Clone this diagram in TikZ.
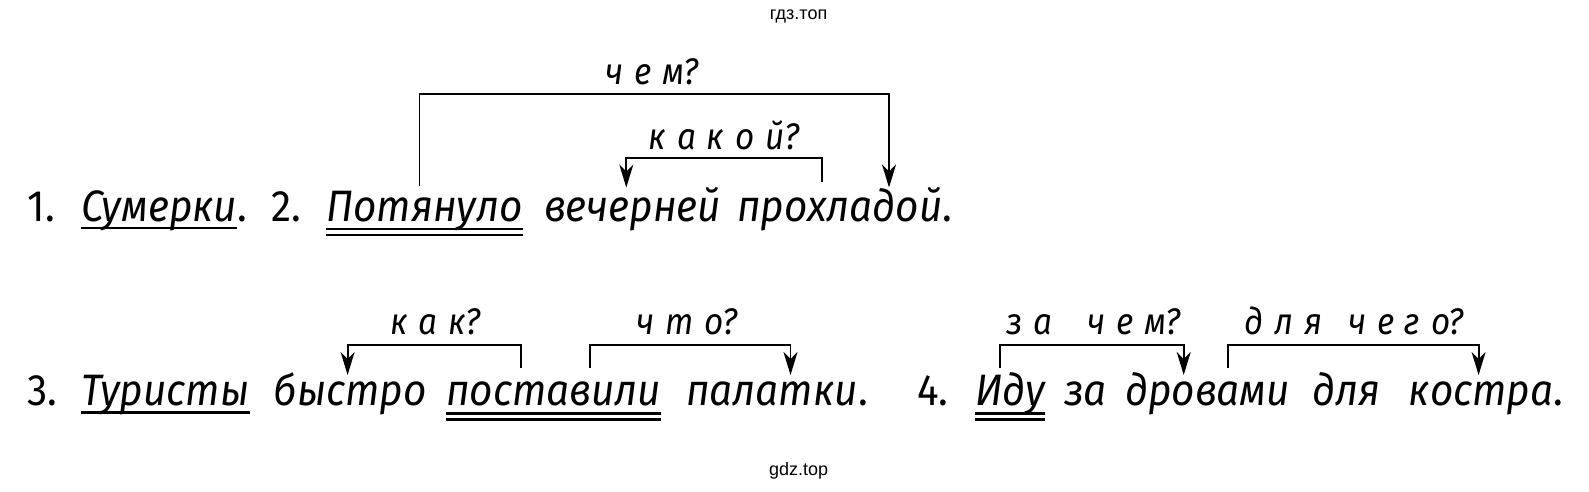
\documentclass[tikz,border=0pt]{standalone}
\usepackage{fontspec}
\usetikzlibrary{arrows.meta,calc}
\newfontfamily\wordfont{Fira Sans}[FakeStretch=0.92]
\newfontfamily\lblfont{Fira Sans}[FakeStretch=0.9]
\newfontfamily\wmfont{Liberation Sans}
\newcommand\lsp{\hspace{0.29em}}
\newcommand\wsp{\hspace{0.95em}}
\tikzset{
  word/.style={anchor=base west, inner sep=0pt, font=\wordfont\itshape\fontsize{44}{50}\selectfont},
  num/.style={word, font=\wordfont\upshape\fontsize{44}{50}\selectfont},
  lbl/.style={anchor=base west, inner sep=0pt, font=\lblfont\itshape\fontsize{37}{42}\selectfont},
  wm/.style={anchor=base, inner sep=0pt, font=\wmfont\fontsize{18}{21}\selectfont},
  conn/.style={line width=1.8pt},
  arr/.style={conn, -{Stealth[length=23pt,width=14pt,inset=7pt]}},
  ul/.style={line width=2.6pt}
}
\begin{document}
\begin{tikzpicture}[x=1pt,y=-1pt]
\useasboundingbox[fill=white] (0,0) rectangle (1589,491);
% watermarks
\node[wm] (wm1) at (798.6,19) {гдз.топ};
\node[wm] (wm2) at (798.6,475) {gdz.top};
% line 1
\node[num] (n1) at (27.4,221) {1.};
\node[word] (sum) at (81,221) {Сумерки};
\node[num] (dot1) at (sum.base east) {.};
\node[num] (n2) at (271.6,221) {2.};
\node[word] (pot) at (326,221) {Потянуло};
\node[word] (vech) at (544,221) {вечерней};
\node[word] (proh) at (737,221) {прохладой};
\node[num] (dot2) at (proh.base east) {.};
% line 2
\node[num] (n3) at (27.4,405.4) {3.};
\node[word] (tur) at (81,405.4) {Туристы};
\node[word] (bys) at (273.6,405.4) {быстро};
\node[word] (post) at (446,405.4) {поставили};
\node[word] (pal) at (686,405.4) {палатки};
\node[num] (dot3) at (pal.base east) {.};
\node[num] (n4) at (917,405.4) {4.};
\node[word] (idu) at (975,405.4) {Иду};
\node[word] (za) at (1064,405.4) {за};
\node[word] (drov) at (1125,405.4) {дровами};
\node[word] (dlya) at (1312,405.4) {для};
\node[word] (kost) at (1408.6,405.4) {костра};
\node[num] (dot4) at (kost.base east) {.};
% underlines
\draw[ul] ([yshift=-7pt]sum.base west) -- ([yshift=-7pt]sum.base east);
\draw[ul] ([yshift=-8pt]pot.base west) -- ([yshift=-8pt]pot.base east);
\draw[ul] ([yshift=-14pt]pot.base west) -- ([yshift=-14pt]pot.base east);
\draw[ul] ([yshift=-7pt]tur.base west) -- ([yshift=-7pt]tur.base east);
\draw[ul] ([yshift=-8pt]post.base west) -- ([yshift=-8pt]post.base east);
\draw[ul] ([yshift=-14pt]post.base west) -- ([yshift=-14pt]post.base east);
\draw[ul] ([yshift=-8pt]idu.base west) -- ([yshift=-8pt]idu.base east);
\draw[ul] ([yshift=-14pt]idu.base west) -- ([yshift=-14pt]idu.base east);
% connector end points
\coordinate (s1) at (419.5,185.5); \coordinate (t1) at (889,187.5);
\coordinate (s2) at (821.9,182.4); \coordinate (t2) at (626.3,187.5);
\coordinate (s3) at (520.9,368); \coordinate (t3) at (347.6,375);
\coordinate (s4) at (589.8,368); \coordinate (t4) at (790.5,375);
\coordinate (s5) at (1000.2,368); \coordinate (t5) at (1183.7,375);
\coordinate (s6) at (1228.2,368); \coordinate (t6) at (1478.6,375);
\draw[arr] (s1) -- ++(0,-91.3) -| (t1);
\draw[arr] (s2) -- ++(0,-24.4) -| (t2);
\draw[arr] (s3) -- ++(0,-23.4) -| (t3);
\draw[arr] (s4) -- ++(0,-23.4) -| (t4);
\draw[arr] (s5) -- ++(0,-23.4) -| (t5);
\draw[arr] (s6) -- ++(0,-23.4) -| (t6);
% labels
\node[lbl] (l1) at (605,84) {ч\lsp е\lsp м?};
\node[lbl] (l2) at (648.6,149) {к\lsp а\lsp к\lsp о\lsp й?};
\node[lbl] (l3) at (390,334.5) {к\lsp а\lsp к?};
\node[lbl] (l4) at (636,334.5) {ч\lsp т\lsp о?};
\node[lbl] (l5) at (1006,334.5) {з\lsp а\wsp ч\lsp е\lsp м?};
\node[lbl] (l6) at (1244.5,334.5) {д\lsp л\lsp я\hspace{0.7em}ч\lsp е\lsp г\lsp о?};
\end{tikzpicture}
\end{document}
